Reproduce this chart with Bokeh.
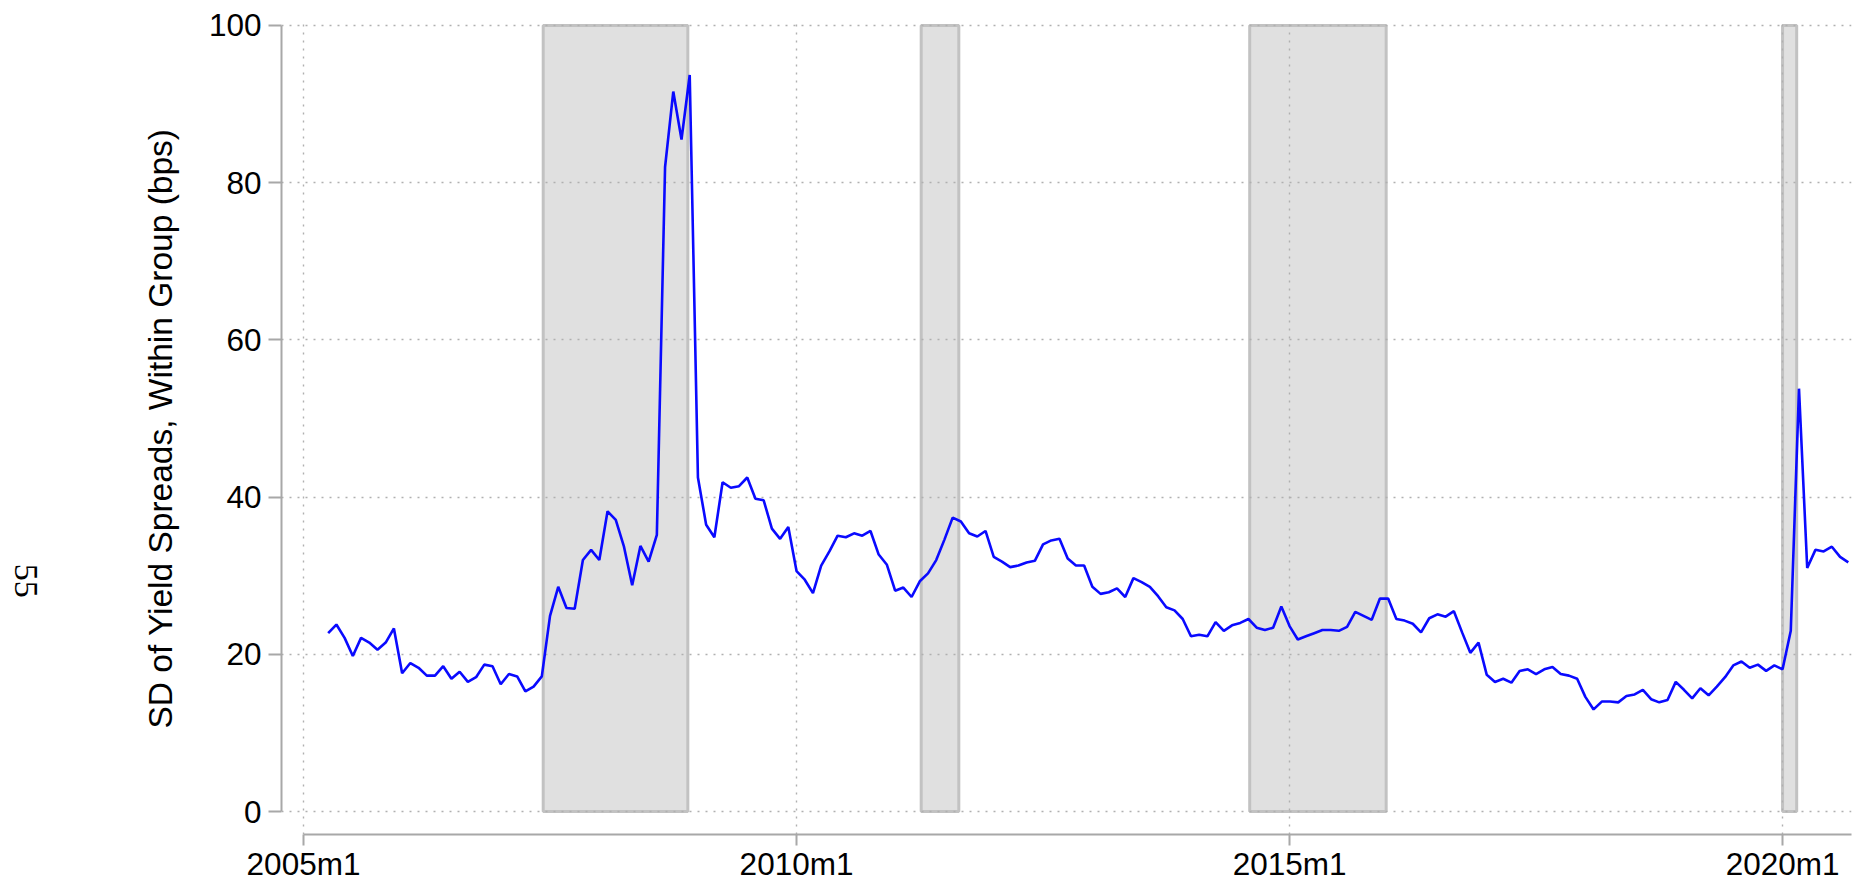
import math
from bokeh.plotting import figure
from bokeh.models import Range1d, FixedTicker, ColumnDataSource
from bokeh.core.properties import value
from bokeh.embed import file_html
from bokeh.resources import INLINE

# ---- data (monthly, month index 0 = 2005m1) ----
first_month = 3  # 2005m4
sd_within = [
    22.7, 23.8, 22.1, 19.8, 22.1, 21.5, 20.6, 21.5, 23.3,             # 2005m4-2005m12
    17.6, 18.9, 18.3, 17.3, 17.3, 18.5, 16.9, 17.8, 16.5, 17.1, 18.7, 18.5,  # 2006
    16.2, 17.5, 17.2, 15.3, 15.9, 17.2, 24.9, 28.6, 25.9, 25.8, 32.0, 33.3,  # 2007
    32.0, 38.2, 37.1, 33.7, 28.8, 33.8, 31.8, 35.2, 82.0, 91.6, 85.5, 93.7,  # 2008
    42.5, 36.5, 34.9, 41.9, 41.2, 41.4, 42.5, 39.8, 39.6, 36.0, 34.7, 36.2,  # 2009
    30.6, 29.5, 27.8, 31.3, 33.1, 35.1, 34.9, 35.4, 35.1, 35.7, 32.7, 31.4,  # 2010
    28.1, 28.5, 27.3, 29.3, 30.3, 32.0, 34.6, 37.4, 36.9, 35.4, 35.0, 35.7,  # 2011
    32.4, 31.8, 31.1, 31.3, 31.7, 31.9, 34.0, 34.5, 34.7, 32.2, 31.3, 31.3,  # 2012
    28.6, 27.7, 27.9, 28.4, 27.3, 29.7, 29.2, 28.6, 27.4, 26.0, 25.6, 24.5,  # 2013
    22.3, 22.5, 22.3, 24.1, 23.0, 23.7, 24.0, 24.5, 23.4, 23.1, 23.4, 26.1,  # 2014
    23.6, 21.9, 22.3, 22.7, 23.1, 23.1, 23.0, 23.5, 25.4, 24.9, 24.4, 27.1,  # 2015
    27.1, 24.5, 24.3, 23.9, 22.8, 24.6, 25.1, 24.8, 25.5, 22.8, 20.2, 21.5,  # 2016
    17.4, 16.5, 16.9, 16.4, 17.9, 18.1, 17.5, 18.1, 18.4, 17.5, 17.3, 16.9,  # 2017
    14.6, 13.0, 14.0, 14.0, 13.9, 14.7, 14.9, 15.5, 14.3, 13.9, 14.2, 16.5,  # 2018
    15.5, 14.4, 15.7, 14.8, 15.9, 17.1, 18.6, 19.1, 18.3, 18.7, 17.9, 18.6,  # 2019
    18.1, 23.0, 53.8, 31.0, 33.3, 33.1, 33.7, 32.4, 31.7,              # 2020m1-2020m9
]
months = list(range(first_month, first_month + len(sd_within)))

# shaded episodes (in month index units)
shade_start = [29.17, 75.17, 115.15, 180.0]
shade_end = [46.77, 79.75, 131.76, 181.72]

x_ticks = [0, 60, 120, 180]
x_tick_labels = ["2005m1", "2010m1", "2015m1", "2020m1"]
y_ticks = [0, 20, 40, 60, 80, 100]

y_label = "SD of Yield Spreads, Within Group (bps)"
page_number = "55"

# ---- figure ----
p = figure(width=1858, height=884, output_backend="svg", toolbar_location=None,
           x_range=Range1d(-2.68, 188.39), y_range=Range1d(-2.91, 100.38),
           min_border_left=281, min_border_right=7, min_border_top=22,
           min_border_bottom=46)
p.outline_line_color = None
p.background_fill_color = "white"
p.border_fill_color = "white"

shade_src = ColumnDataSource(dict(left=shade_start, right=shade_end,
                                  bottom=[0] * len(shade_start),
                                  top=[100] * len(shade_start)))
q = p.quad(left="left", right="right", bottom="bottom", top="top", source=shade_src,
           fill_color="#e0e0e0", line_color="#c2c2c2", line_width=3)
q.level = "image"

line_src = ColumnDataSource(dict(x=months, y=sd_within))
p.line("x", "y", source=line_src, line_color="#0a0aff", line_width=2.6)

# axes
font = "Liberation Sans"
for ax in (p.xaxis[0], p.yaxis[0]):
    ax.axis_line_color = "#a8a8a8"
    ax.axis_line_width = 2
    ax.major_tick_line_color = "#a8a8a8"
    ax.major_tick_line_width = 2
    ax.major_tick_in = 0
    ax.minor_tick_line_color = None
    ax.major_label_text_font = font
    ax.major_label_text_font_size = "31.5px"
    ax.major_label_text_color = "black"

xa = p.xaxis[0]
xa.ticker = FixedTicker(ticks=x_ticks)
xa.major_label_overrides = {t: lab for t, lab in zip(x_ticks, x_tick_labels)}
xa.major_tick_out = 11
xa.major_label_standoff = 0
xa.bounds = (0, 188.39)

ya = p.yaxis[0]
ya.ticker = FixedTicker(ticks=y_ticks)
ya.major_tick_out = 13
ya.major_label_standoff = 7
ya.bounds = (0, 100)
ya.axis_label = y_label
ya.axis_label_text_font = font
ya.axis_label_text_font_size = "33.5px"
ya.axis_label_text_font_style = "normal"
ya.axis_label_text_color = "black"
ya.axis_label_standoff = 27

# grids
for g in (p.xgrid[0], p.ygrid[0]):
    g.grid_line_color = "#b0b0b0"
    g.grid_line_dash = "2 6"
    g.grid_line_width = 1.4
p.xgrid[0].ticker = FixedTicker(ticks=x_ticks)
p.ygrid[0].ticker = FixedTicker(ticks=y_ticks)

# rotated page number at far left
pn_src = ColumnDataSource(dict(x=[-33.83], y=[29.37], t=[page_number]))
tg = p.text(x="x", y="y", text="t", source=pn_src, angle=-math.pi / 2,
            text_align="center", text_baseline="middle",
            text_font=value("Liberation Serif"), text_font_size="34px",
            text_color="black")
tg.level = "overlay"

open("out.html", "w").write(file_html(p, INLINE))
